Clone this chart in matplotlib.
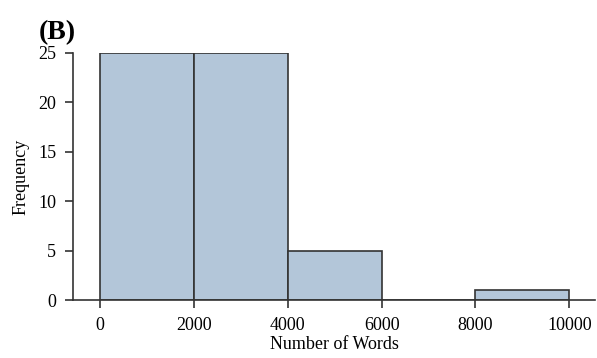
import numpy as np
import matplotlib.pyplot as plt

plt.rcParams['font.family'] = ['Liberation Serif', 'DejaVu Serif']

bin_edges = [0, 2000, 4000, 6000, 8000, 10000]
counts = [25, 25, 5, 0, 1]
x_ticks = [0, 2000, 4000, 6000, 8000, 10000]
y_ticks = [0, 5, 10, 15, 20, 25]

fig = plt.figure(figsize=(5.97, 3.58), dpi=100)
ax = fig.add_axes([0.122, 0.162, 0.875, 0.69])

ax.hist(bin_edges[:-1], bins=bin_edges, weights=counts,
        color='#b3c6d9', edgecolor='#333333', linewidth=1.2)

ax.set_xlim(-575, 10550)
ax.set_ylim(0, 25)
ax.set_xticks(x_ticks)
ax.set_yticks(y_ticks)
ax.tick_params(labelsize=13, length=6, width=1.2, color='#333333', pad=6)
for s in ['top', 'right']:
    ax.spines[s].set_visible(False)
for s in ['left', 'bottom']:
    ax.spines[s].set_linewidth(1.2)
    ax.spines[s].set_color('#333333')

ax.set_xlabel('Number of Words', fontsize=13, labelpad=2)
ax.set_ylabel('Frequency', fontsize=13, labelpad=6)
fig.text(0.065, 0.89, '(B)', fontsize=20, fontweight='bold')

fig.savefig('out.png', dpi=100)
